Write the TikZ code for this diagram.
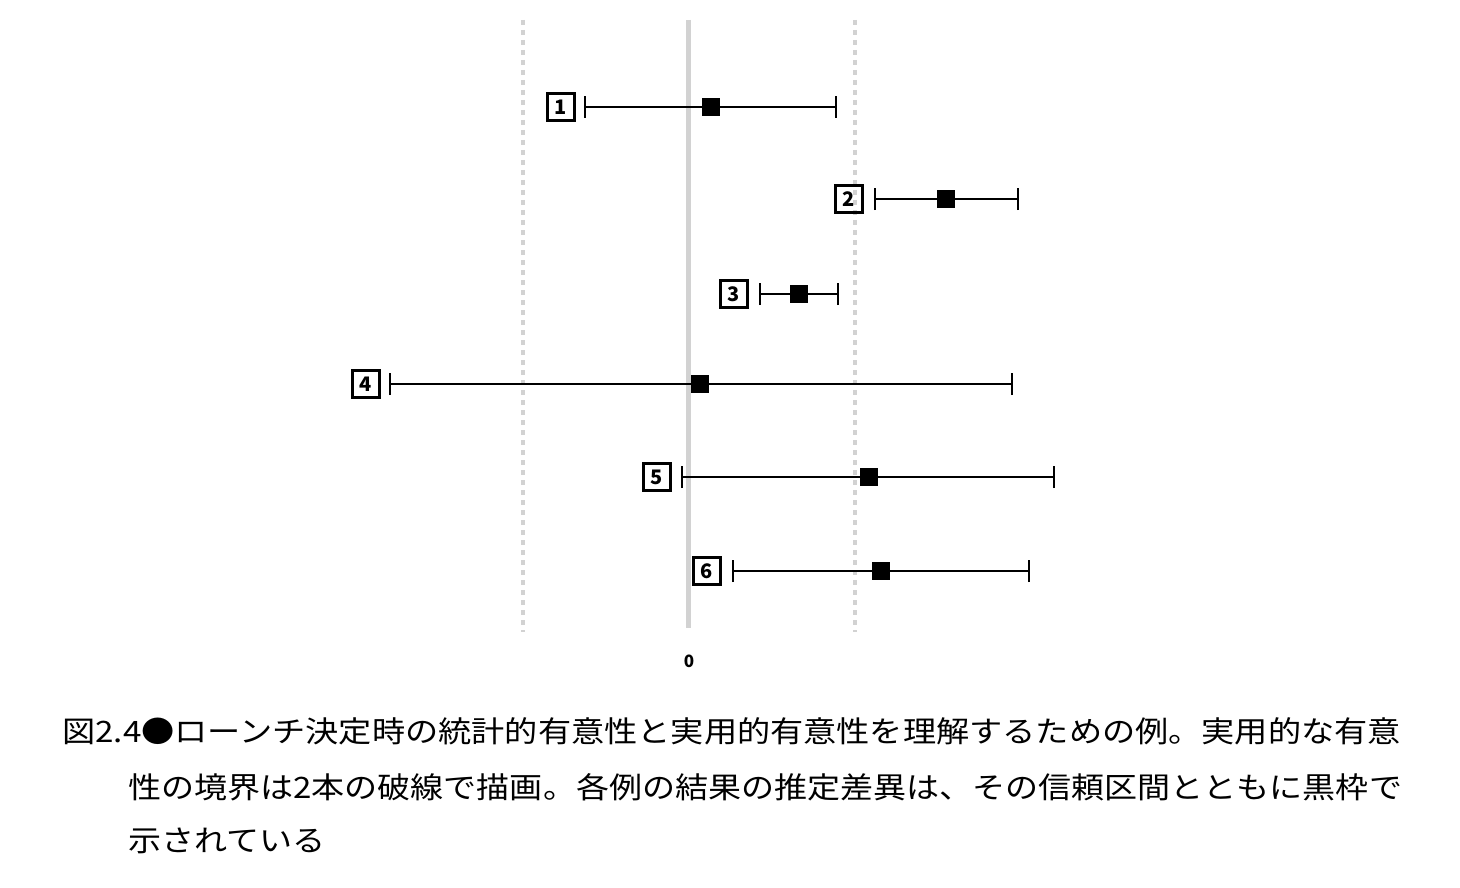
\documentclass[tikz,border=0pt]{standalone}
\usepackage{fontspec}
\setmainfont{Noto Sans CJK JP}
\begin{document}
\begin{tikzpicture}[x=1pt,y=-1pt,
  lbl/.style={draw,line width=2.6pt,minimum size=27pt,inner sep=0pt,font=\fontsize{20}{20}\selectfont\bfseries},
  est/.style={fill=black,minimum size=18pt,inner sep=0pt},
  ci/.style={line width=2.6pt},
  endbar/.style={line width=2.6pt}]
\useasboundingbox (0,0) rectangle (1460,888);
\draw[gray!35,line width=3.5pt,dash pattern=on 5pt off 5pt] (523,20) -- (523,632);
\draw[gray!35,line width=3.5pt,dash pattern=on 5pt off 5pt] (855,20) -- (855,632);
\draw[gray!35,line width=5pt] (688,20) -- (688,628);
\node[font=\fontsize{17}{17}\selectfont\bfseries] (zero) at (689,661) {0};
\foreach \n/\y/\b/\l/\r/\s in {1/107/561/585/836/711, 2/199/849/875/1018/946, 3/294/734/760/838/799, 4/384/366/390/1012/700, 5/477/657/682/1054/869, 6/571/707/733/1029/881}{
  \node[lbl] (b\n) at (\b,\y) {\n};
  \coordinate (l\n) at (\l,\y);
  \coordinate (r\n) at (\r,\y);
  \draw[ci] (l\n) -- (r\n);
  \draw[endbar] ([yshift=-11]l\n) -- ([yshift=11]l\n);
  \draw[endbar] ([yshift=-11]r\n) -- ([yshift=11]r\n);
  \node[est] (s\n) at (\s,\y) {};
}
\begin{scope}[every node/.style={anchor=west,inner sep=0pt,font=\fontsize{29.5}{30}\selectfont}]
\node (c1) at (62,731) {\scalebox{1.125}[1]{図2.4●ローンチ決定時の統計的有意性と実用的有意性を理解するための例。実用的な有意}};
\node (c2) at (128,787) {\scalebox{1.12}[1]{性の境界は2本の破線で描画。各例の結果の推定差異は、その信頼区間とともに黒枠で}};
\node (c3) at (128,841) {\scalebox{1.12}[1]{示されている}};
\end{scope}
\end{tikzpicture}
\end{document}
